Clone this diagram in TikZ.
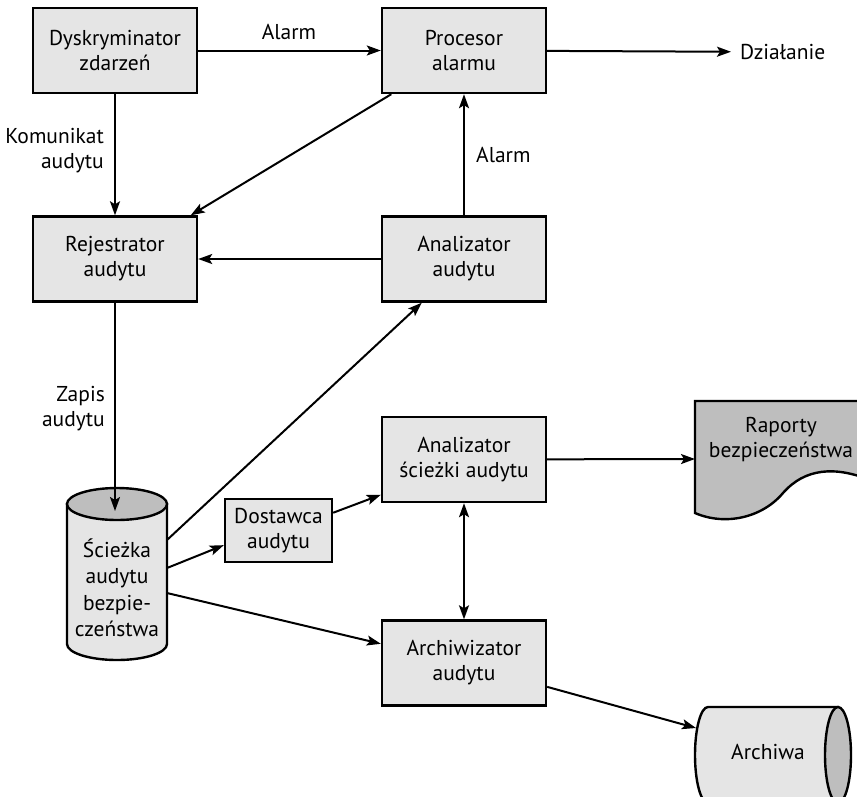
\documentclass[tikz,border=0pt]{standalone}
\usepackage{fontspec}
\setmainfont{PT Sans}
\usetikzlibrary{arrows.meta}
\definecolor{boxfill}{RGB}{229,229,229}
\definecolor{darkfill}{RGB}{190,190,190}

\begin{document}
\begin{tikzpicture}[x=1pt,y=-1pt,
  box/.style={draw,line width=2.4pt,fill=boxfill,minimum width=164pt,minimum height=85pt,align=center,inner sep=0pt,font=\fontsize{21.5}{25}\selectfont},
  lbl/.style={inner sep=0pt,font=\fontsize{21.5}{25}\selectfont},
  arr/.style={line width=2pt,-{Stealth[length=14pt,width=10pt,inset=3pt]}},
  arrboth/.style={line width=2pt,{Stealth[length=14pt,width=10pt,inset=3pt]}-{Stealth[length=14pt,width=10pt,inset=3pt]}}]
\useasboundingbox (0,0) rectangle (857,796);
\node[box] (dysk) at (115,50.5) {Dyskryminator\\zdarzeń};
\node[box] (proc) at (464,50.5) {Procesor\\alarmu};
\node[box] (rej) at (115,259) {Rejestrator\\audytu};
\node[box] (anal) at (464,259) {Analizator\\audytu};
\node[box] (ansc) at (464,459.5) {Analizator\\ścieżki audytu};
\node[box] (arch) at (464,663) {Archiwizator\\audytu};
\node[box,minimum width=107pt,minimum height=63pt] (dost) at (278.5,530.5) {Dostawca\\audytu};
\draw[line width=2.4pt,fill=boxfill] (67,504) -- (67,644) arc[start angle=180,end angle=0,x radius=50,y radius=16] -- (167,504) -- cycle;
\draw[line width=2.4pt,fill=darkfill] (117,504) ellipse [x radius=50,y radius=16];
\node[lbl,align=center,font=\fontsize{21.5}{26.5}\selectfont] (sciez) at (117,588) {Ścieżka\\audytu\\bezpie-\\czeństwa};
\coordinate (cyltop) at (115,511);
\coordinate (cyl1) at (167,540);
\coordinate (cyl2) at (167,568);
\coordinate (cyl3) at (167,593);
\draw[line width=2.4pt,fill=darkfill] (695,401) -- (870,401) -- (870,480) .. controls (835,466) and (805,468) .. (783,493) .. controls (762,518) and (725,526) .. (695,513) -- cycle;
\node[lbl,align=center] (rap) at (781,440) {Raporty\\bezpieczeństwa};
\coordinate (rapL) at (695,459);
\draw[line width=2.4pt,fill=boxfill] (708,707) -- (838,707) -- (838,803) -- (708,803) arc[start angle=90,end angle=270,x radius=13,y radius=48] -- cycle;
\draw[line width=2.4pt,fill=darkfill] (838,755) ellipse [x radius=13,y radius=48];
\node[lbl] (archiwa) at (768,752) {Archiwa};
\coordinate (archL) at (696,728);
\draw[arr] (dysk) -- (proc);
\node[lbl] (alarm1) at (289,32) {Alarm};
\node[lbl,anchor=west] (dzial) at (740,52) {Działanie};
\draw[arr,shorten >=9pt] (proc) -- (dzial);
\draw[arr] (dysk) -- (rej);
\node[lbl,anchor=east,align=right] (kom) at (104,151) {Komunikat\\audytu};
\draw[arr] (proc.211) -- (rej.30);
\draw[arr] (anal) -- (rej);
\draw[arr] (anal) -- (proc);
\node[lbl,anchor=west] (alarm2) at (476,155) {Alarm};
\draw[arr] (rej) -- (cyltop);
\node[lbl,anchor=east,align=right] (zapis) at (105,409) {Zapis\\audytu};
\draw[arr] (cyl1) -- (anal.226);
\draw[arr] (cyl2) -- (dost.195);
\draw[arr] (dost.18) -- (ansc.203);
\draw[arr] (ansc) -- (rapL);
\draw[arrboth] (ansc) -- (arch);
\draw[arr] (cyl3) -- (arch.167);
\draw[arr] (arch.-16) -- (archL);
\end{tikzpicture}
\end{document}
